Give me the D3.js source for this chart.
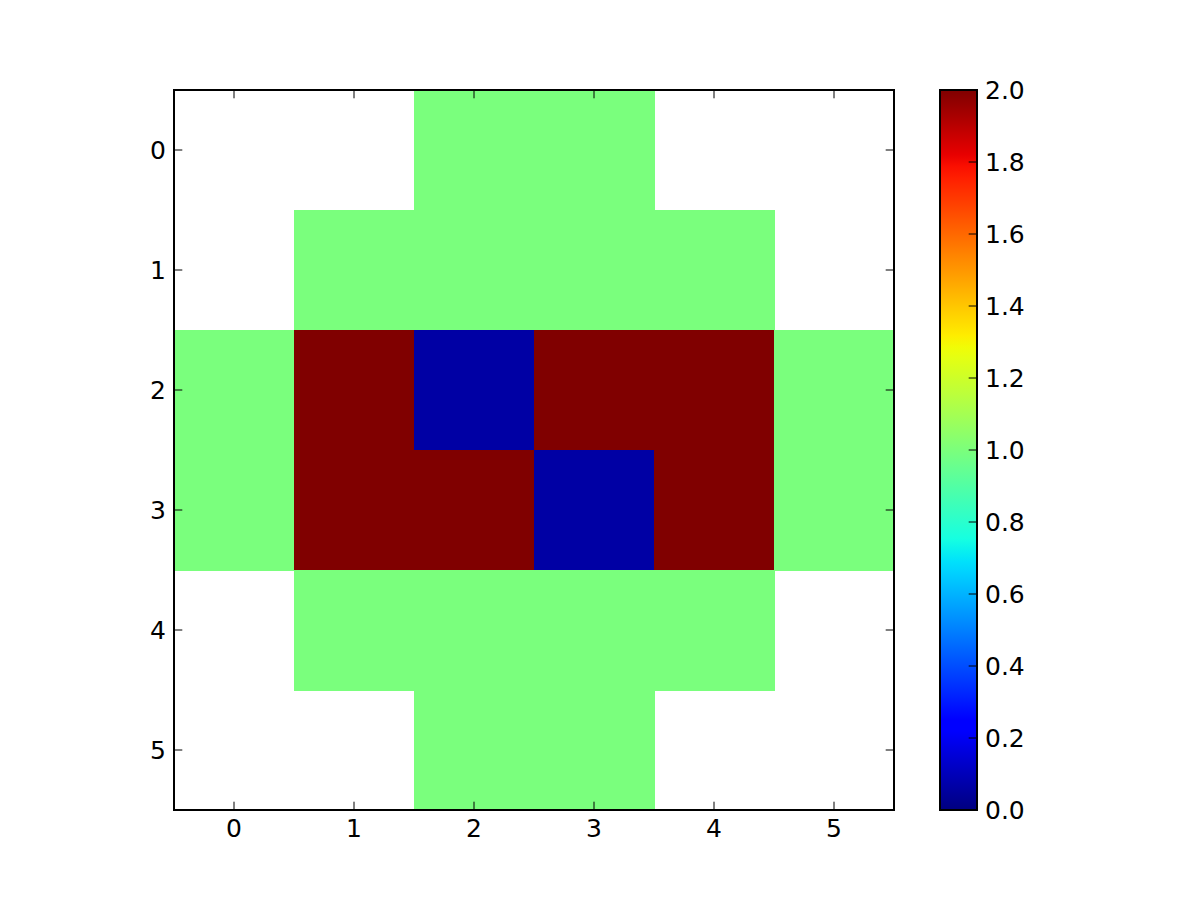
<!DOCTYPE html>
<html><head><meta charset="utf-8">
<script src="https://cdn.jsdelivr.net/npm/d3@7"></script>
<style>body{margin:0;background:#fff}svg{display:block}text{font-family:"DejaVu Sans",sans-serif}</style>
</head><body>
<svg id="c" width="1200" height="900"></svg>
<script>
const rows = [0,1,2,3,4,5];
const cols = [0,1,2,3,4,5];
const values = [
  [null,null,1,1,null,null],
  [null,1,1,1,1,null],
  [1,2,0.07,2,2,1],
  [1,2,2,0.07,2,1],
  [null,1,1,1,1,null],
  [null,null,1,1,null,null]
];
const xTicks = [0,1,2,3,4,5];
const yTicks = [0,1,2,3,4,5];
const cbTicks = [0,0.2,0.4,0.6,0.8,1.0,1.2,1.4,1.6,1.8,2.0];
const vmin = 0, vmax = 2;

function jet(t){
  t = Math.max(0,Math.min(1,t));
  const seg = (pts)=>{for(let i=1;i<pts.length;i++){if(t<=pts[i][0]){const a=pts[i-1],b=pts[i];return a[1]+(b[1]-a[1])*(t-a[0])/(b[0]-a[0]);}}return pts[pts.length-1][1];};
  const r=seg([[0,0],[0.35,0],[0.66,1],[0.89,1],[1,0.5]]);
  const g=seg([[0,0],[0.125,0],[0.375,1],[0.64,1],[0.91,0],[1,0]]);
  const b=seg([[0,0.5],[0.11,1],[0.34,1],[0.65,0],[1,0]]);
  return d3.rgb(Math.round(r*255),Math.round(g*255),Math.round(b*255)).toString();
}
const color = v => jet(Math.floor((v-vmin)/(vmax-vmin)*255.999)/255);

const svg = d3.select("#c");
const L=174, T=90, W=720, H=720;
const x = d3.scaleLinear().domain([-0.5,5.5]).range([L,L+W]);
const y = d3.scaleLinear().domain([-0.5,5.5]).range([T,T+H]);

const cells=[];
rows.forEach(r=>cols.forEach(c=>{if(values[r][c]!==null)cells.push({r,c,v:values[r][c]});}));
svg.append("g").selectAll("rect").data(cells).join("rect")
  .attr("x",d=>x(d.c-0.5)).attr("y",d=>y(d.r-0.5))
  .attr("width",x(1)-x(0)+0.5).attr("height",y(1)-y(0)+0.5)
  .attr("fill",d=>color(d.v)).attr("shape-rendering","crispEdges");

const tl=8.3, fs="25px";
const ax = svg.append("g").attr("stroke","#000").attr("stroke-width",1);
xTicks.forEach(t=>{
  ax.append("line").attr("x1",x(t)).attr("x2",x(t)).attr("y1",T+H).attr("y2",T+H-tl);
  ax.append("line").attr("x1",x(t)).attr("x2",x(t)).attr("y1",T).attr("y2",T+tl);
});
yTicks.forEach(t=>{
  ax.append("line").attr("y1",y(t)).attr("y2",y(t)).attr("x1",L).attr("x2",L+tl);
  ax.append("line").attr("y1",y(t)).attr("y2",y(t)).attr("x1",L+W).attr("x2",L+W-tl);
});
svg.append("rect").attr("x",L).attr("y",T).attr("width",W).attr("height",H)
  .attr("fill","none").attr("stroke","#000").attr("stroke-width",2);

svg.append("g").selectAll("text").data(xTicks).join("text")
  .attr("x",d=>x(d)).attr("y",T+H+27).attr("text-anchor","middle").attr("font-size",fs).text(d=>d);
svg.append("g").selectAll("text").data(yTicks).join("text")
  .attr("x",L-8).attr("y",d=>y(d)+9).attr("text-anchor","end").attr("font-size",fs).text(d=>d);

// colorbar
const CL=940, CW=37;
const cy = d3.scaleLinear().domain([vmin,vmax]).range([T+H,T]);
const defs = svg.append("defs");
const grad = defs.append("linearGradient").attr("id","jetg").attr("x1",0).attr("y1",1).attr("x2",0).attr("y2",0);
d3.range(0,257,4).forEach(i=>{const t=Math.min(i,255)/255;grad.append("stop").attr("offset",t).attr("stop-color",jet(t));});
svg.append("rect").attr("x",CL).attr("y",T).attr("width",CW).attr("height",H).attr("fill","url(#jetg)");
const cax = svg.append("g").attr("stroke","#000").attr("stroke-width",1);
cbTicks.forEach(t=>{
  cax.append("line").attr("x1",CL+CW).attr("x2",CL+CW-tl).attr("y1",cy(t)).attr("y2",cy(t));
});
svg.append("rect").attr("x",CL).attr("y",T).attr("width",CW).attr("height",H)
  .attr("fill","none").attr("stroke","#000").attr("stroke-width",2);
svg.append("g").selectAll("text").data(cbTicks).join("text")
  .attr("x",CL+CW+8).attr("y",d=>cy(d)+9).attr("font-size",fs).text(d=>d.toFixed(1));
</script>
</body></html>
